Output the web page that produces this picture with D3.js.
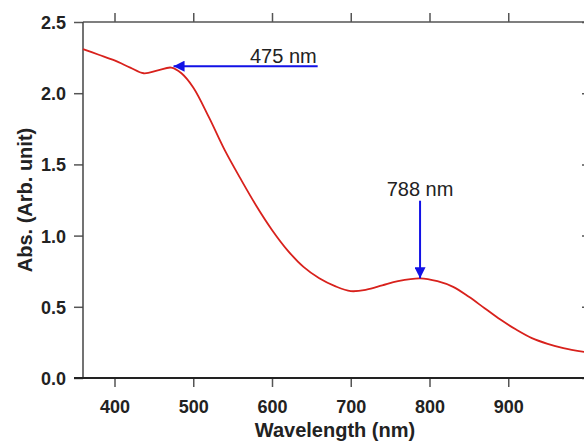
<!DOCTYPE html>
<html>
<head>
<meta charset="utf-8">
<script src="https://cdn.jsdelivr.net/npm/d3@7"></script>
<style>
  body { margin: 0; background: #fff; }
  svg { display: block; font-family: "Liberation Sans", Arial, sans-serif; }
</style>
</head>
<body>
<div id="chart"></div>
<script>
// spectrum
var wavelength = [360,380,400,420,437,455,472,485,500,520,540,560,580,600,620,640,660,680,700,720,740,760,788,810,830,850,870,890,910,930,950,970,1000];
var absorbance = [2.31,2.27,2.23,2.18,2.14,2.16,2.18,2.14,2.04,1.83,1.60,1.40,1.21,1.04,0.895,0.78,0.70,0.645,0.61,0.62,0.65,0.68,0.70,0.68,0.64,0.57,0.49,0.41,0.34,0.28,0.24,0.21,0.18];
var xTicks = [400,500,600,700,800,900];
var yTicks = [0,0.5,1.0,1.5,2.0,2.5];
// annotations: label, tip (wavelength, abs), tail (wavelength, abs)
var peaks = [
  {label: "475 nm", tip: [475, 2.19], tail: [658, 2.19], dir: "h"},
  {label: "788 nm", tip: [788, 0.70], tail: [788, 1.245], dir: "v"}
];

var W = 584, H = 443;
var m = {left: 83, top: 22, right: 587, bottom: 378};

var svg = d3.select("#chart").append("svg")
  .attr("width", W)
  .attr("height", H);

var x = d3.scaleLinear().domain([360, 1000]).range([m.left, m.right]);
var y = d3.scaleLinear().domain([0, 2.5]).range([m.bottom, m.top]);

svg.append("defs").append("marker")
  .attr("id", "head")
  .attr("viewBox", "0 0 10 10")
  .attr("refX", 10).attr("refY", 5)
  .attr("markerWidth", 8).attr("markerHeight", 5.5)
  .attr("markerUnits", "strokeWidth")
  .attr("orient", "auto")
  .append("path").attr("d", "M0,0L10,5L0,10z").attr("fill", "#1212e6");

function styleAxis(g){
  g.select(".domain").remove();
  g.selectAll(".tick line").attr("stroke", "#555").attr("stroke-width", 1.5);
  g.selectAll(".tick text")
    .attr("font-size", 18).attr("font-weight", "bold").attr("fill", "#222");
}

// bottom
var gx = svg.append("g").attr("transform", "translate(0," + m.bottom + ")")
  .call(d3.axisBottom(x).tickValues(xTicks).tickFormat(d3.format("d")).tickSize(9).tickPadding(13));
styleAxis(gx);
// top
var gt = svg.append("g").attr("transform", "translate(0," + m.top + ")")
  .call(d3.axisTop(x).tickValues(xTicks).tickFormat("").tickSize(9));
styleAxis(gt);
// left
var gy = svg.append("g").attr("transform", "translate(" + m.left + ",0)")
  .call(d3.axisLeft(y).tickValues(yTicks).tickFormat(d3.format(".1f")).tickSize(9).tickPadding(8));
styleAxis(gy);
gy.selectAll(".tick text").attr("dy", "0.36em");
// right
var gr = svg.append("g").attr("transform", "translate(" + m.right + ",0)")
  .call(d3.axisRight(y).tickValues(yTicks).tickFormat("").tickSize(-5));
styleAxis(gr);

// frame
svg.append("line").attr("x1", m.left).attr("x2", m.right).attr("y1", m.top).attr("y2", m.top)
  .attr("stroke", "#555").attr("stroke-width", 1.5);
svg.append("line").attr("x1", m.left).attr("x2", m.left).attr("y1", m.top).attr("y2", m.bottom)
  .attr("stroke", "#444").attr("stroke-width", 1.5);
svg.append("line").attr("x1", m.right).attr("x2", m.right).attr("y1", m.top).attr("y2", m.bottom)
  .attr("stroke", "#444").attr("stroke-width", 1.5);
svg.append("line").attr("x1", m.left - 9).attr("x2", m.right).attr("y1", m.bottom).attr("y2", m.bottom)
  .attr("stroke", "#222").attr("stroke-width", 2);

// curve
var line = d3.line()
  .x(function(d){ return x(d[0]); })
  .y(function(d){ return y(d[1]); })
  .curve(d3.curveCatmullRom.alpha(0.5));

svg.append("path")
  .datum(d3.zip(wavelength, absorbance))
  .attr("fill", "none")
  .attr("stroke", "#d8211c")
  .attr("stroke-width", 1.8)
  .attr("d", line);

// arrows
var ann = svg.selectAll("g.ann").data(peaks).enter().append("g").attr("class", "ann");
ann.append("line")
  .attr("x1", function(d){ return x(d.tail[0]); })
  .attr("y1", function(d){ return y(d.tail[1]); })
  .attr("x2", function(d){ return x(d.tip[0]); })
  .attr("y2", function(d){ return y(d.tip[1]); })
  .attr("stroke", "#1212e6")
  .attr("stroke-width", 2)
  .attr("marker-end", "url(#head)");
ann.append("text")
  .attr("x", function(d){ return d.dir === "h" ? x(d.tail[0]) - 1 : x(d.tail[0]); })
  .attr("y", function(d){ return d.dir === "h" ? y(d.tail[1]) - 3 : y(d.tail[1]) - 5; })
  .attr("text-anchor", function(d){ return d.dir === "h" ? "end" : "middle"; })
  .attr("font-size", 20)
  .attr("fill", "#222")
  .text(function(d){ return d.label; });

// titles
svg.append("text")
  .attr("x", (m.left + m.right) / 2).attr("y", 437)
  .attr("text-anchor", "middle")
  .attr("font-size", 20).attr("font-weight", "bold").attr("fill", "#222")
  .text("Wavelength (nm)");
svg.append("text")
  .attr("transform", "translate(32," + (m.top + m.bottom) / 2 + ") rotate(-90)")
  .attr("text-anchor", "middle")
  .attr("font-size", 20).attr("font-weight", "bold").attr("fill", "#222")
  .text("Abs. (Arb. unit)");
</script>
</body>
</html>
